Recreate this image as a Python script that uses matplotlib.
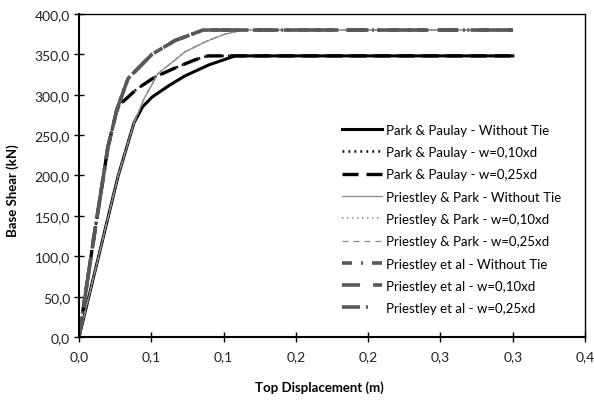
import numpy as np
import matplotlib
matplotlib.use('Agg')
import matplotlib.pyplot as plt

plt.rcParams['font.family'] = ['Lato', 'DejaVu Sans']
plt.rcParams['lines.scale_dashes'] = False

# data (displacement in m, base shear in kN)
pp_nt_x = [0.0, 0.027, 0.038, 0.044, 0.0505, 0.062, 0.073, 0.090, 0.108, 0.30]
pp_nt_y = [0.0, 199, 265, 285, 297, 311, 323, 337, 348, 348]

pp_conf_x = [0.0, 0.010, 0.020, 0.026, 0.029, 0.040, 0.0526, 0.0664, 0.080, 0.089, 0.30]
pp_conf_y = [0.0, 120, 235, 280, 289, 307, 322, 333, 343, 348, 348]

prp_x = [0.0, 0.027, 0.038, 0.045, 0.0546, 0.0733, 0.088, 0.101, 0.113, 0.30]
prp_y = [0.0, 199, 265, 295, 326, 353, 366, 375, 380, 380]

pea_x = [0.0, 0.010, 0.020, 0.0263, 0.0339, 0.0505, 0.0664, 0.0858, 0.30]
pea_y = [0.0, 120, 235, 282, 320, 350, 367, 380, 380]

labels = ['Park & Paulay - Without Tie', 'Park & Paulay - w=0,10xd',
          'Park & Paulay - w=0,25xd', 'Priestley & Park - Without Tie',
          'Priestley & Park - w=0,10xd', 'Priestley & Park - w=0,25xd',
          'Priestley et al - Without Tie', 'Priestley et al - w=0,10xd',
          'Priestley et al - w=0,25xd']

xticks = [0.0, 0.05, 0.10, 0.15, 0.20, 0.25, 0.30, 0.35]
xtick_labels = ['0,0', '0,1', '0,1', '0,2', '0,2', '0,3', '0,3', '0,4']
yticks = [0, 50, 100, 150, 200, 250, 300, 350, 400]
ytick_labels = ['0,0', '50,0', '100,0', '150,0', '200,0', '250,0',
                '300,0', '350,0', '400,0']

black = '#000000'
grey = '#8c8c8c'
dgrey = '#585858'

fig = plt.figure(figsize=(5.94, 4.02), dpi=100)
ax = fig.add_axes([0.133, 0.159, 0.852, 0.804])

ax.plot(pp_nt_x, pp_nt_y, color=black, lw=2.2, label=labels[0])
ax.plot(pp_conf_x, pp_conf_y, color=black, lw=1.8, dashes=(1.3, 3.0),
        label=labels[1])
ax.plot(pp_conf_x, pp_conf_y, color=black, lw=2.4, dashes=(11.5, 5.8),
        label=labels[2])
ax.plot(prp_x, prp_y, color=grey, lw=0.9, label=labels[3])
ax.plot(prp_x, prp_y, color=grey, lw=1.2, dashes=(1.0, 2.6), label=labels[4])
ax.plot(prp_x, prp_y, color=grey, lw=0.9, dashes=(4.3, 3.6), label=labels[5])
ax.plot(pea_x, pea_y, color=dgrey, lw=2.6, dashes=(7.2, 6.5, 1.4, 6.5),
        label=labels[6])
ax.plot(pea_x, pea_y, color=dgrey, lw=2.6, dashes=(13, 9.4), label=labels[7])
ax.plot(pea_x, pea_y, color=dgrey, lw=2.6, dashes=(13, 4.3, 1.4, 14),
        label=labels[8])

ax.set_xlim(0, 0.35)
ax.set_ylim(0, 400)
ax.set_xticks(xticks)
ax.set_xticklabels(xtick_labels)
ax.set_yticks(yticks)
ax.set_yticklabels(ytick_labels)
ax.tick_params(direction='inout', length=7, width=1, labelsize=10,
               colors='#000000', labelcolor='#222222')
ax.tick_params(axis='x', pad=6)
ax.tick_params(axis='y', pad=3)
for s in ax.spines.values():
    s.set_linewidth(1.0)
for s in ['left', 'bottom']:
    ax.spines[s].set_linewidth(1.5)

ax.set_xlabel('Top Displacement (m)', fontsize=9.5, fontweight='bold')
ax.set_ylabel('Base Shear (kN)', fontsize=9.5, fontweight='bold')
ax.xaxis.set_label_coords(0.474, -0.135)
ax.yaxis.set_label_coords(-0.118, 0.455)

ax.legend(loc='upper left', bbox_to_anchor=(0.52, 0.66), frameon=False,
          fontsize=9.5, handlelength=3.0, handletextpad=0.3,
          labelspacing=0.78, borderpad=0, borderaxespad=0)

fig.savefig('out.png', dpi=100)
